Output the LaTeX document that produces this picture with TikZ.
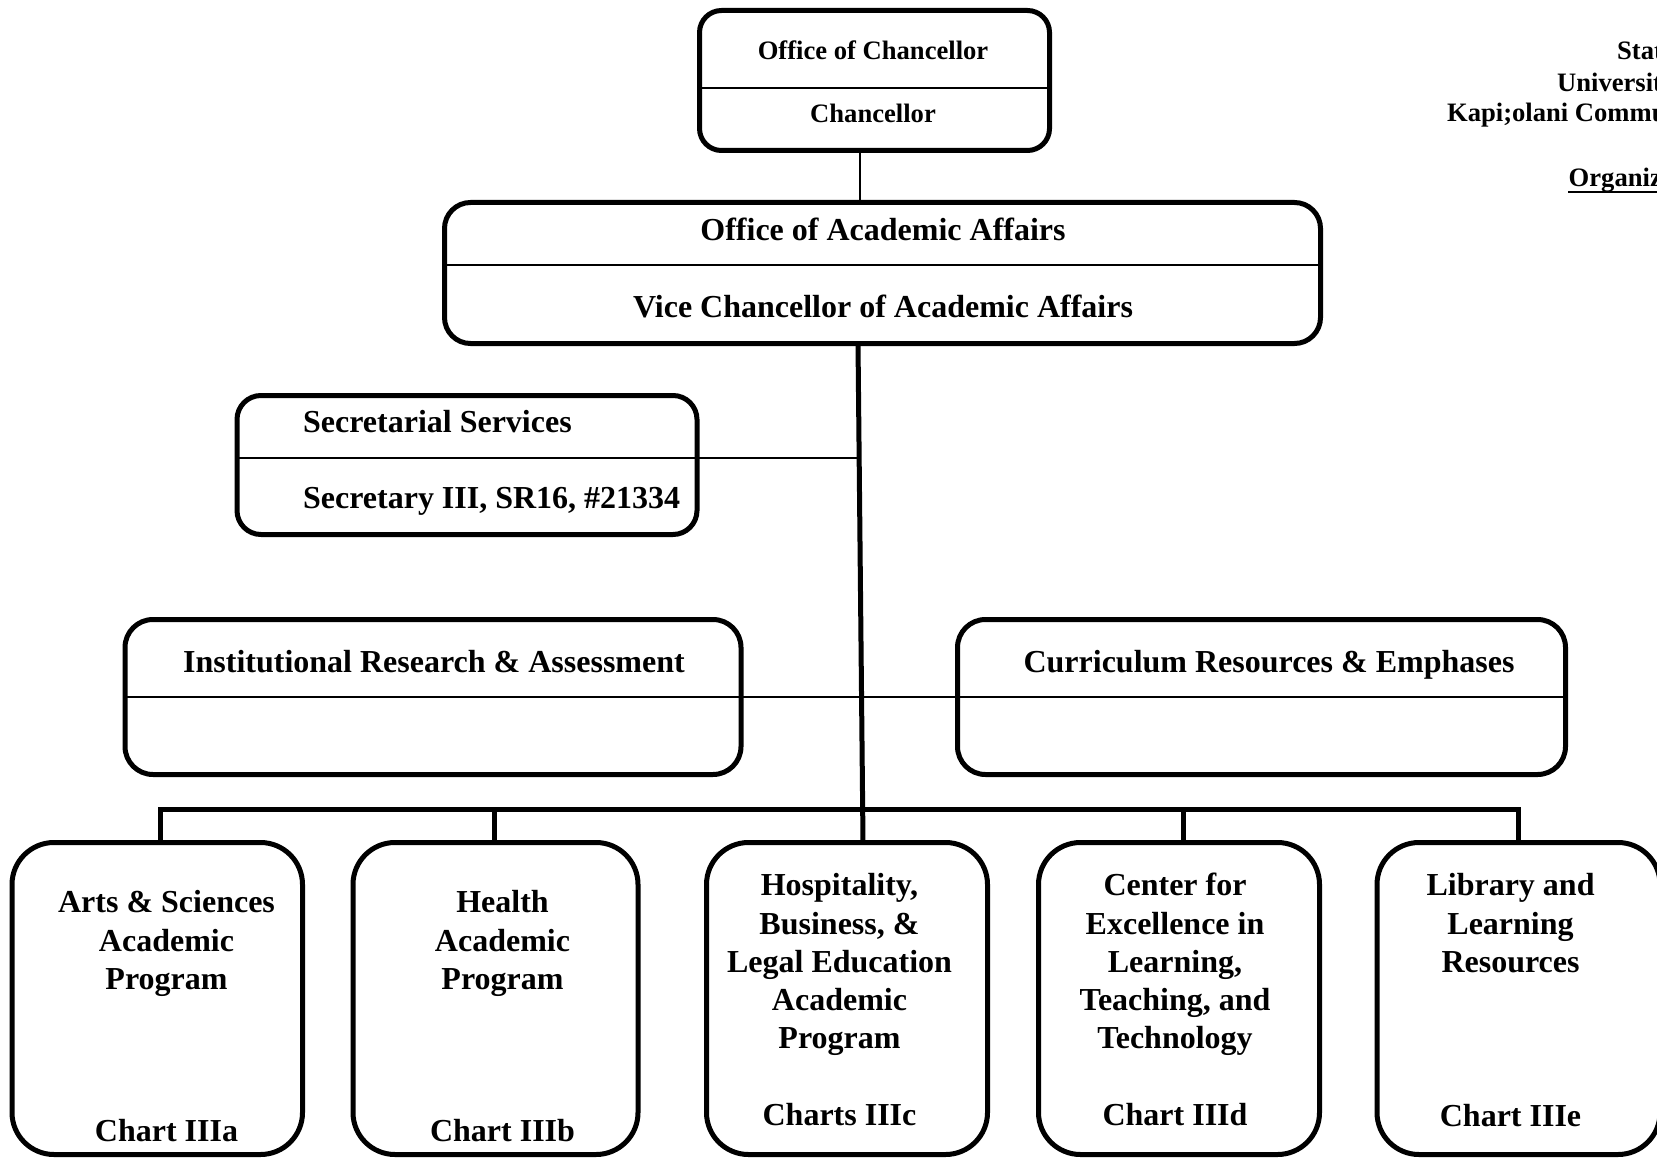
\documentclass[tikz,border=0pt]{standalone}
\usepackage{fontspec}
\setmainfont{Liberation Serif}
\begin{document}
\begin{tikzpicture}[x=0.5pt,y=-0.5pt,
  box/.style={draw=black,line width=2.5pt,inner sep=0pt,outer sep=0pt},
  thinln/.style={line width=1pt},
  thickln/.style={line width=2.5pt},
  big/.style={font=\bfseries\fontsize{16}{19}\selectfont,anchor=base,inner sep=0pt},
  small/.style={font=\bfseries\fontsize{13.3}{16}\selectfont,anchor=base,inner sep=0pt},
]
\useasboundingbox (0,0) rectangle (1657,1160);
\begin{scope}
\clip (0,0) rectangle (1657,1160);

% ---------- boxes ----------
\node[box,rounded corners=11pt,minimum width=175pt,minimum height=70pt] (chan) at (874.5,80.5) {};
\node[box,rounded corners=13pt,minimum width=438pt,minimum height=70.5pt] (aa) at (882.5,273) {};
\node[box,rounded corners=12pt,minimum width=230pt,minimum height=69.5pt] (sec) at (467,465) {};
\node[box,rounded corners=14pt,minimum width=308pt,minimum height=77.5pt] (ir) at (433,697) {};
\node[box,rounded corners=14pt,minimum width=304pt,minimum height=77.5pt] (cr) at (1261.5,697) {};
\node[box,rounded corners=21pt,minimum width=145.25pt,minimum height=156pt] (arts) at (157.25,998.5) {};
\node[box,rounded corners=21pt,minimum width=142.5pt,minimum height=156pt] (health) at (495.5,998.5) {};
\node[box,rounded corners=21pt,minimum width=140.5pt,minimum height=156pt] (hosp) at (847,998.5) {};
\node[box,rounded corners=21pt,minimum width=140.5pt,minimum height=156pt] (cent) at (1179,998.5) {};
\node[box,rounded corners=21pt,minimum width=141.5pt,minimum height=156pt] (lib) at (1518.5,998.5) {};

% ---------- helper coordinates ----------
\coordinate (cx) at (860,0);
\coordinate (sTop) at (858,0);
\coordinate (sBot) at (863,0);
\coordinate (chy) at (0,88.5);
\coordinate (aay) at (0,265);
\coordinate (secy) at (0,457.5);
\coordinate (secJ) at (859,457.5);
\coordinate (bus) at (0,809.5);
\coordinate (dA) at (160,0);
\coordinate (dB) at (494.6,0);
\coordinate (dD) at (1183.4,0);
\coordinate (dE) at (1518.4,0);

% ---------- dividers ----------
\draw[thinln] (chan.west |- chy) -- (chan.east |- chy);
\draw[thinln] (aa.west |- aay) -- (aa.east |- aay);
\draw[thinln] (sec.west |- secy) -- (sec.east |- secy);
\draw[thinln] (ir.west) -- (ir.east);
\draw[thinln] (cr.west) -- (cr.east);

% ---------- connectors ----------
\draw[thinln] (chan.south -| cx) -- (aa.north -| cx);
\draw[thickln] (aa.south -| sTop) -- (hosp.north -| sBot);
\draw[thinln] (sec.east |- secy) -- (secJ);
\draw[thinln] (ir.east) -- (cr.west);
\draw[thickln] (arts.north -| dA) -- (dA |- bus) -- (dE |- bus) -- (lib.north -| dE);
\draw[thickln] (health.north -| dB) -- (dB |- bus);
\draw[thickln] (cent.north -| dD) -- (dD |- bus);

% ---------- texts ----------
\node[small] (chanA) at (873,60) {Office of Chancellor};
\node[small] (chanB) at (873,123) {Chancellor};
\node[big] (aaA) at (883,240.5) {Office of Academic Affairs};
\node[big] (aaB) at (883,317.5) {Vice Chancellor of Academic Affairs};
\node[big,anchor=base west] (secA) at (302.7,432) {Secretarial Services};
\node[big,anchor=base west] (secB) at (302.7,508) {Secretary III, SR16, \#21334};
\node[big] (irA) at (434,672) {Institutional Research \& Assessment};
\node[big] (crA) at (1269,672) {Curriculum Resources \& Emphases};

\node[big] (a1) at (166.5,912.7) {Arts \& Sciences};
\node[big] (a2) at (166.5,951.2) {Academic};
\node[big] (a3) at (166.5,989.5) {Program};
\node[big] (a4) at (166.5,1141.7) {Chart IIIa};

\node[big] (b1) at (502.5,912.7) {Health};
\node[big] (b2) at (502.5,951.2) {Academic};
\node[big] (b3) at (502.5,989.5) {Program};
\node[big] (b4) at (502.5,1141.7) {Chart IIIb};

\node[big] (c1) at (839.5,895) {Hospitality,};
\node[big] (c2) at (839.5,934) {Business, \&};
\node[big] (c3) at (839.5,972.5) {Legal Education};
\node[big] (c4) at (839.5,1010.5) {Academic};
\node[big] (c5) at (839.5,1048.5) {Program};
\node[big] (c6) at (839.5,1125) {Charts IIIc};

\node[big] (d1) at (1175,895) {Center for};
\node[big] (d2) at (1175,934) {Excellence in};
\node[big] (d3) at (1175,972.5) {Learning,};
\node[big] (d4) at (1175,1010.5) {Teaching, and};
\node[big] (d5) at (1175,1048.5) {Technology};
\node[big] (d6) at (1175,1125) {Chart IIId};

\node[big] (e1) at (1510.5,895) {Library and};
\node[big] (e2) at (1510.5,934) {Learning};
\node[big] (e3) at (1510.5,972.5) {Resources};
\node[big] (e4) at (1510.5,1126) {Chart IIIe};

% ---------- title (cut at right edge) ----------
\node[small,anchor=base west] (t1) at (1616.7,60) {Stat};
\node[small,anchor=base west] (t2) at (1556.7,91.7) {Universit};
\node[small,anchor=base west] (t3) at (1446.7,121.7) {Kapi;olani Commu};
\node[small,anchor=base west] (t4) at (1568.3,186.7) {Organiz};
\draw[line width=1pt] ([yshift=-2.6pt]t4.base west) -- ([yshift=-2.6pt,xshift=20pt]t4.base east);
\end{scope}
\end{tikzpicture}
\end{document}
